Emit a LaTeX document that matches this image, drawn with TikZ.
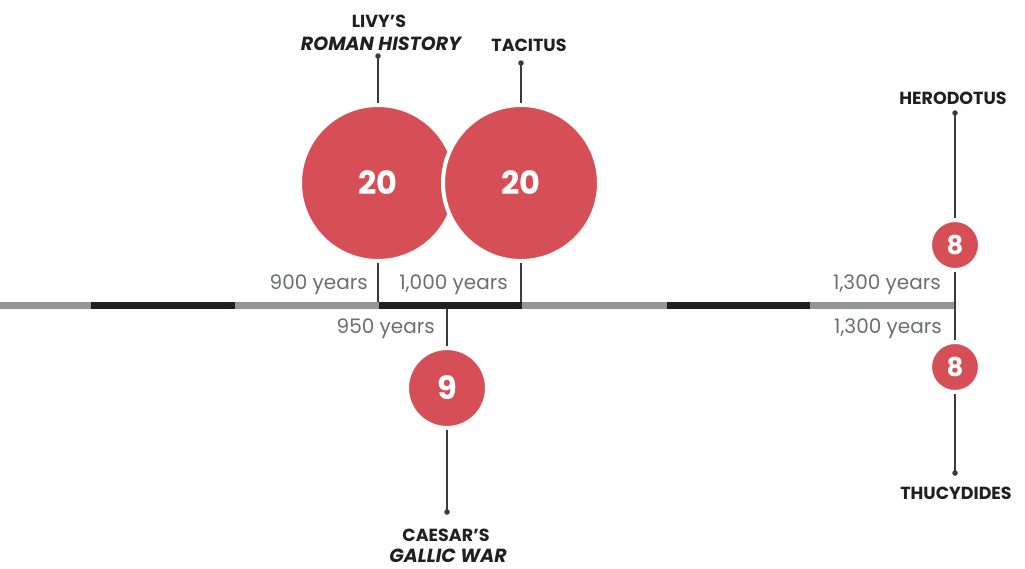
\documentclass[tikz,border=0pt]{standalone}
\usepackage{fontspec}
\setmainfont{Poppins}
\definecolor{cred}{HTML}{D64F56}
\definecolor{tgray}{HTML}{939598}
\definecolor{tblack}{HTML}{231F20}
\definecolor{lineg}{HTML}{3A3A3C}
\definecolor{yeargray}{HTML}{6D6E71}
\tikzset{
  bubble/.style={circle, fill=cred, draw=white, line width=4pt, inner sep=0pt, text=white,
    font=\bfseries\fontsize{32}{32}\selectfont},
  smallbubble/.style={bubble, minimum size=50pt, font=\bfseries\fontsize{26}{26}\selectfont},
  leader/.style={draw=lineg, line width=1.5pt},
  tipdot/.style={circle, fill=lineg, inner sep=0pt, minimum size=5.5pt},
  label/.style={font=\bfseries\fontsize{17.5}{20}\selectfont, text=tblack, inner sep=0pt},
  ilabel/.style={font=\bfseries\itshape\fontsize{19}{20}\selectfont, text=tblack, inner sep=0pt},
  yrs/.style={font=\fontsize{20}{24}\selectfont, text=yeargray, inner sep=0pt, anchor=east},
  seggray/.style={fill=tgray},
  segblack/.style={fill=tblack},
}
\begin{document}
\begin{tikzpicture}[x=1pt,y=-1pt]
\useasboundingbox[fill=white] (0,0) rectangle (1025,568);
% timeline
\fill[seggray]  (-10,302) rectangle (91,309);
\fill[segblack] (91,302) rectangle (235,309);
\fill[seggray]  (235,302) rectangle (379,309);
\fill[segblack] (379,302) rectangle (522,309);
\fill[seggray]  (522,302) rectangle (667,309);
\fill[segblack] (667,302) rectangle (810,309);
\fill[seggray]  (810,302) rectangle (955,309);
\coordinate (tlivy) at (378,302);
\coordinate (ttac) at (521,302);
\coordinate (tcae) at (447,309);
% bubbles
\node[bubble, minimum size=156pt] (livy) at (378,183) {20};
\node[bubble, minimum size=156pt] (tac) at (521,183) {20};
\node[bubble, minimum size=80pt] (cae) at (447,388) {9};
\node[smallbubble] (her) at (955,245) {8};
\node[smallbubble] (thu) at (955,367) {8};
% dots
\node[tipdot] (livyd) at (378,56) {};
\node[tipdot] (tacd) at (521,63) {};
\node[tipdot] (caed) at (447,512) {};
\node[tipdot] (herd) at (955,113) {};
\node[tipdot] (thud) at (955,473) {};
% leaders
\draw[leader] (livyd.center) -- (livy.north);
\draw[leader] (livy.south) -- (tlivy);
\draw[leader] (tacd.center) -- (tac.north);
\draw[leader] (tac.south) -- (ttac);
\draw[leader] (tcae) -- (cae.north);
\draw[leader] (cae.south) -- (caed.center);
\draw[leader] (herd.center) -- (her.north);
\draw[leader] (her.south) -- (thu.north);
\draw[leader] (thu.south) -- (thud.center);
% names
\node[label] (livyn) at (379,21) {LIVY’S};
\node[ilabel] (livyi) at (381,44) {ROMAN HISTORY};
\node[label] (tacn) at (529,45) {TACITUS};
\node[label] (hern) at (953,98) {HERODOTUS};
\node[label] (thun) at (956,493) {THUCYDIDES};
\node[label] (caen) at (446,535) {CAESAR’S};
\node[ilabel] (caei) at (448,556) {GALLIC WAR};
% years
\node[yrs] (y900) at (368,285) {900 years};
\node[yrs] (y1000) at (508,285) {1,000 years};
\node[yrs] (y950) at (435,329) {950 years};
\node[yrs] (y1300a) at (941,285) {1,300 years};
\node[yrs] (y1300b) at (942,329) {1,300 years};
\end{tikzpicture}
\end{document}
